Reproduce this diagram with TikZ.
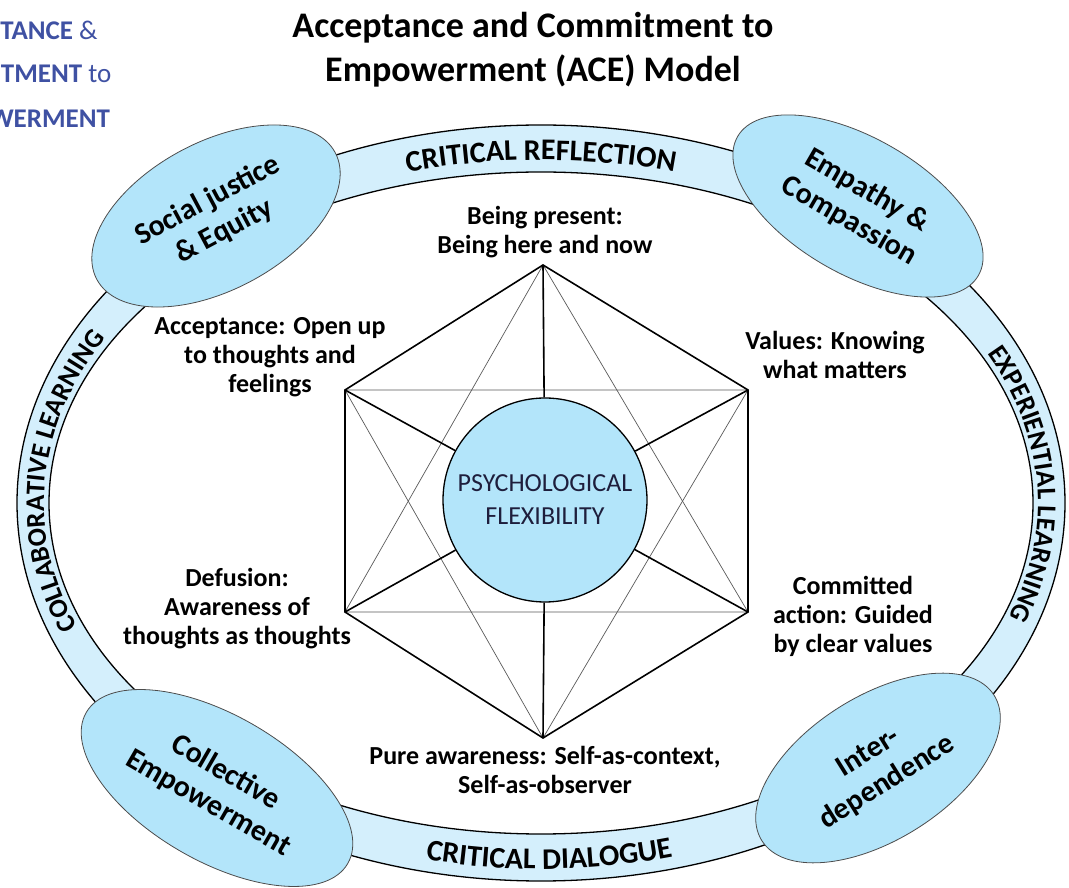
\documentclass[tikz,border=0pt]{standalone}
\usepackage{fontspec}
\setmainfont{Carlito}
\usetikzlibrary{shapes.geometric,decorations.text}
\definecolor{ringblue}{RGB}{212,239,252}
\definecolor{capblue}{RGB}{179,229,250}
\definecolor{logoblue}{RGB}{63,81,163}
\definecolor{flexink}{RGB}{30,30,60}
\newcommand\ringfont{\bfseries\fontsize{30}{30}\selectfont}
\newcommand\sidefont{\bfseries\fontsize{27}{27}\selectfont}

\begin{document}
\begin{tikzpicture}[x=1pt,y=1pt,
  bubble/.style={ellipse,draw=black!70,line width=0.8,fill=capblue,inner sep=0pt,align=center,font=\bfseries\fontsize{30}{35}\selectfont},
  facet/.style={align=center,inner sep=0pt,font=\bfseries\fontsize{26}{29}\selectfont},
  logo/.style={anchor=base west,inner sep=0pt,text=logoblue,font=\fontsize{27}{27}\selectfont},
  hexline/.style={line width=1.6},
  triline/.style={line width=0.7,black!65},
  ringtext/.style 2 args={postaction={decorate},decoration={text along path,text align=center,text={|#1|#2}}}]
\useasboundingbox (0,0) rectangle (1069,887);
\clip (0,0) rectangle (1069,887);
%Ring
\coordinate (ringc) at (541,384);
\fill[ringblue,even odd rule] (ringc) ellipse [x radius=524,y radius=378] (ringc) ellipse [x radius=492,y radius=331];
\draw[line width=1.3] (ringc) ellipse [x radius=524,y radius=378];
\draw[line width=1.3] (ringc) ellipse [x radius=492,y radius=331];
\path[ringtext={\ringfont}{CRITICAL REFLECTION}] ([shift={(122:506 and 343)}]ringc) arc[start angle=122,end angle=58,x radius=506,y radius=343];
\path[ringtext={\sidefont}{COLLABORATIVE LEARNING}] ([shift={(215:497 and 340)}]ringc) arc[start angle=215,end angle=138,x radius=497,y radius=340];
\path[ringtext={\sidefont}{EXPERIENTIAL LEARNING}] ([shift={(40:497 and 340)}]ringc) arc[start angle=40,end angle=-34,x radius=497,y radius=340];
\path[ringtext={\ringfont}{CRITICAL DIALOGUE}] ([shift={(244:508 and 366)}]ringc) arc[start angle=244,end angle=298,x radius=508,y radius=366];
%Ellipses
\node[bubble,minimum width=270pt,minimum height=148pt,rotate=28] (justice) at (216,671) {Social justice\\\& Equity};
\node[bubble,minimum width=278pt,minimum height=136pt,rotate=-30] (empathy) at (858,681) {Empathy \&\\Compassion};
\node[bubble,minimum width=302pt,minimum height=146pt,rotate=-30] (collective) at (217,99) {Collective\\Empowerment};
\node[bubble,minimum width=274pt,minimum height=144pt,rotate=32] (inter) at (878,119) {Inter-\\dependence};
%Hexaflex
\node[circle,draw,line width=1.3,fill=capblue,minimum size=204pt,inner sep=0pt,align=center,text=flexink,font=\fontsize{26}{33}\selectfont] (flex) at (545,387) {PSYCHOLOGICAL\\FLEXIBILITY};
\coordinate (pres) at (543,622);
\coordinate (acc) at (345,497);
\coordinate (val) at (748,497);
\coordinate (def) at (345,275);
\coordinate (com) at (748,275);
\coordinate (aware) at (543,149);
\draw[triline] (pres) -- (def) -- (com) -- cycle;
\draw[triline] (aware) -- (acc) -- (val) -- cycle;
\draw[hexline] (pres) -- (val) -- (com) -- (aware) -- (def) -- (acc) -- cycle;
\foreach \v in {pres,acc,val,def,com,aware}
  \draw[hexline] (\v) -- (flex);
%Text
\node[align=center,inner sep=0pt,font=\bfseries\fontsize{36}{44}\selectfont] (title) at (533,837) {Acceptance and Commitment to\\Empowerment (ACE) Model};
\node[logo] (logoa) at (-72,847) {\textbf{ACCEPTANCE} \&};
\node[logo] (logob) at (-86,804) {\textbf{COMMITMENT} to};
\node[logo] (logoc) at (-80,759) {\textbf{EMPOWERMENT}};
\node[facet] (preslbl) at (545,655) {Being present:\\Being here and now};
\node[facet] (acclbl) at (270,530) {Acceptance: Open up\\to thoughts and\\feelings};
\node[facet] (vallbl) at (835,532) {Values: Knowing\\what matters};
\node[facet] (deflbl) at (237,278) {Defusion:\\Awareness of\\thoughts as thoughts};
\node[facet] (comlbl) at (853,271) {Committed\\action: Guided\\by clear values};
\node[facet] (awarelbl) at (545,117) {Pure awareness: Self-as-context,\\Self-as-observer};
\end{tikzpicture}
\end{document}
